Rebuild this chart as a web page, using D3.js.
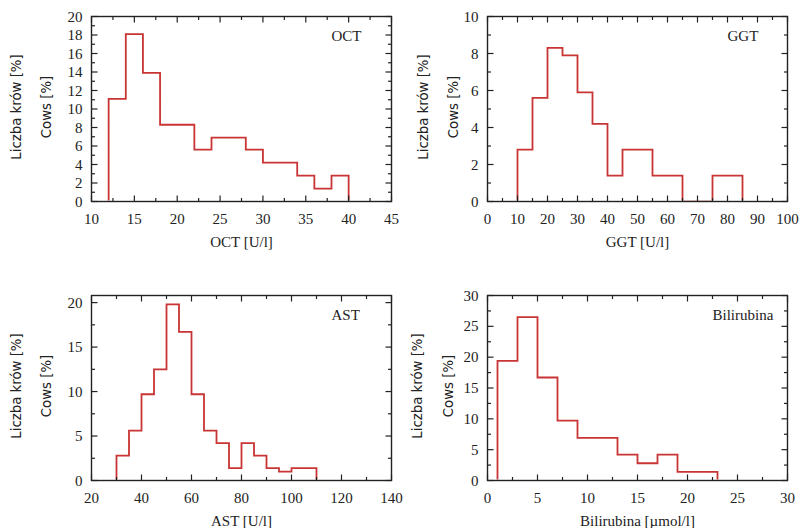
<!DOCTYPE html>
<html>
<head>
<meta charset="utf-8">
<script src="https://cdn.jsdelivr.net/npm/d3@7"></script>
<style>
  body { margin: 0; background: #fff; }
</style>
</head>
<body>
<script>
// bin edges and share of cows (%) per bin
var octEdges = [12, 14, 16, 18, 20, 22, 24, 26, 28, 30, 32, 34, 36, 38, 40];
var octValues = [11.1, 18.1, 13.9, 8.3, 8.3, 5.6, 6.9, 6.9, 5.6, 4.2, 4.2, 2.8, 1.4, 2.8];

var ggtEdges = [10, 15, 20, 25, 30, 35, 40, 45, 50, 55, 60, 65, 70, 75, 80, 85];
var ggtValues = [2.8, 5.6, 8.3, 7.9, 5.9, 4.2, 1.4, 2.8, 2.8, 1.4, 1.4, 0, 0, 1.4, 1.4];

var astEdges = [30, 35, 40, 45, 50, 55, 60, 65, 70, 75, 80, 85, 90, 95, 100, 105, 110];
var astValues = [2.8, 5.6, 9.7, 12.5, 19.8, 16.7, 9.7, 5.6, 4.2, 1.4, 4.2, 2.8, 1.4, 1.0, 1.4, 1.4];

var biliEdges = [1, 3, 5, 7, 9, 11, 13, 15, 17, 19, 21, 23];
var biliValues = [19.4, 26.5, 16.7, 9.7, 6.9, 6.9, 4.2, 2.8, 4.2, 1.4, 1.4];

// tick labels
var octXTicks = [10, 15, 20, 25, 30, 35, 40, 45];
var octYTicks = [0, 2, 4, 6, 8, 10, 12, 14, 16, 18, 20];
var ggtXTicks = [0, 10, 20, 30, 40, 50, 60, 70, 80, 90, 100];
var ggtYTicks = [0, 2, 4, 6, 8, 10];
var astXTicks = [20, 40, 60, 80, 100, 120, 140];
var astYTicks = [0, 5, 10, 15, 20];
var biliXTicks = [0, 5, 10, 15, 20, 25, 30];
var biliYTicks = [0, 5, 10, 15, 20, 25, 30];

var yLabel1 = 'Liczba krów [%]';
var yLabel2 = 'Cows [%]';

var panels = [
  { name: 'OCT', xLabel: 'OCT [U/l]', edges: octEdges, values: octValues,
    xTicks: octXTicks, yTicks: octYTicks, xMinor: 2.5, yMinor: 1, yMax: 20,
    left: 91.5, top: 16.5, nameAt: 0.8, yl1: -75, yl2: -45 },
  { name: 'GGT', xLabel: 'GGT [U/l]', edges: ggtEdges, values: ggtValues,
    xTicks: ggtXTicks, yTicks: ggtYTicks, xMinor: 5, yMinor: 1, yMax: 10,
    left: 487.5, top: 16.5, nameAt: 0.8, yl1: -64, yl2: -34 },
  { name: 'AST', xLabel: 'AST [U/l]', edges: astEdges, values: astValues,
    xTicks: astXTicks, yTicks: astYTicks, xMinor: 10, yMinor: 2.5, yMax: 20.8,
    left: 91.5, top: 295.5, nameAt: 0.8, yl1: -75, yl2: -45 },
  { name: 'Bilirubina', xLabel: 'Bilirubina [µmol/l]', edges: biliEdges, values: biliValues,
    xTicks: biliXTicks, yTicks: biliYTicks, xMinor: 2.5, yMinor: 2.5, yMax: 30,
    left: 487.5, top: 295.5, nameAt: 0.75, yl1: -70, yl2: -39 }
];

var W = 300, H = 185;
var serif = '"Liberation Serif", "Times New Roman", serif';
var sans = '"DejaVu Sans", sans-serif';
var red = '#c93434';
var ink = '#222';

var svg = d3.select('body').append('svg')
  .attr('width', 804)
  .attr('height', 528);

// keeps the zero-level part of the outline under the frame
svg.append('defs').append('clipPath').attr('id', 'plotclip')
  .append('rect').attr('x', -2).attr('y', -2).attr('width', W + 4).attr('height', H + 1.1);

panels.forEach(function (p) {
  var g = svg.append('g').attr('transform', 'translate(' + p.left + ',' + p.top + ')');
  var xExt = d3.extent(p.xTicks);
  var x = d3.scaleLinear().domain(xExt).range([0, W]);
  var y = d3.scaleLinear().domain([0, p.yMax]).range([H, 0]);

  // step outline of the histogram
  var pts = [[p.edges[0], 0]];
  p.values.forEach(function (v, i) {
    pts.push([p.edges[i], v]);
    pts.push([p.edges[i + 1], v]);
  });
  pts.push([p.edges[p.edges.length - 1], 0]);

  g.append('path')
    .attr('d', d3.line().x(function (d) { return x(d[0]); }).y(function (d) { return y(d[1]); })(pts))
    .attr('clip-path', 'url(#plotclip)')
    .attr('fill', 'none')
    .attr('stroke', red)
    .attr('stroke-width', 1.8);

  // ticks on all four sides, pointing inward
  var xMinors = d3.range(xExt[0], xExt[1] + 1e-9, p.xMinor).filter(function (v) {
    return p.xTicks.indexOf(v) < 0;
  });
  var yMinors = d3.range(0, p.yMax + 1e-9, p.yMinor).filter(function (v) {
    return p.yTicks.indexOf(v) < 0;
  });
  var ticks = g.append('g').attr('stroke', ink).attr('stroke-width', 1.2);
  function xTick(v, len) {
    ticks.append('line').attr('x1', x(v)).attr('x2', x(v)).attr('y1', H).attr('y2', H - len);
    ticks.append('line').attr('x1', x(v)).attr('x2', x(v)).attr('y1', 0).attr('y2', len);
  }
  function yTick(v, len) {
    ticks.append('line').attr('y1', y(v)).attr('y2', y(v)).attr('x1', 0).attr('x2', len);
    ticks.append('line').attr('y1', y(v)).attr('y2', y(v)).attr('x1', W).attr('x2', W - len);
  }
  p.xTicks.forEach(function (v) { xTick(v, 6); });
  xMinors.forEach(function (v) { xTick(v, 3.5); });
  p.yTicks.forEach(function (v) { yTick(v, 6); });
  yMinors.forEach(function (v) { yTick(v, 3.5); });

  g.append('rect')
    .attr('width', W).attr('height', H)
    .attr('fill', 'none')
    .attr('stroke', ink)
    .attr('stroke-width', 1.4);

  // tick labels
  g.selectAll('.xl').data(p.xTicks).enter().append('text')
    .attr('x', function (d) { return x(d); })
    .attr('y', H + 22.5)
    .attr('text-anchor', 'middle')
    .style('font-family', serif).style('font-size', '15px').attr('fill', ink)
    .text(function (d) { return d; });

  g.selectAll('.yl').data(p.yTicks).enter().append('text')
    .attr('x', -9)
    .attr('y', function (d) { return y(d) + 5; })
    .attr('text-anchor', 'end')
    .style('font-family', serif).style('font-size', '15px').attr('fill', ink)
    .text(function (d) { return d; });

  // axis titles
  g.append('text')
    .attr('x', W / 2).attr('y', H + 45)
    .attr('text-anchor', 'middle')
    .style('font-family', serif).style('font-size', '15px').attr('fill', ink)
    .text(p.xLabel);

  [[p.yl1, yLabel1], [p.yl2, yLabel2]].forEach(function (l) {
    g.append('text')
      .attr('transform', 'translate(' + l[0] + ',' + (H / 2 - 2) + ') rotate(-90)')
      .attr('text-anchor', 'middle')
      .attr('dominant-baseline', 'central')
      .style('font-family', sans).style('font-size', '13.3px').attr('fill', ink)
      .text(l[1]);
  });

  // panel name in the upper right
  g.append('text')
    .attr('x', W * p.nameAt).attr('y', 24)
    .style('font-family', serif).style('font-size', '15px').attr('fill', ink)
    .text(p.name);
});
</script>
</body>
</html>
